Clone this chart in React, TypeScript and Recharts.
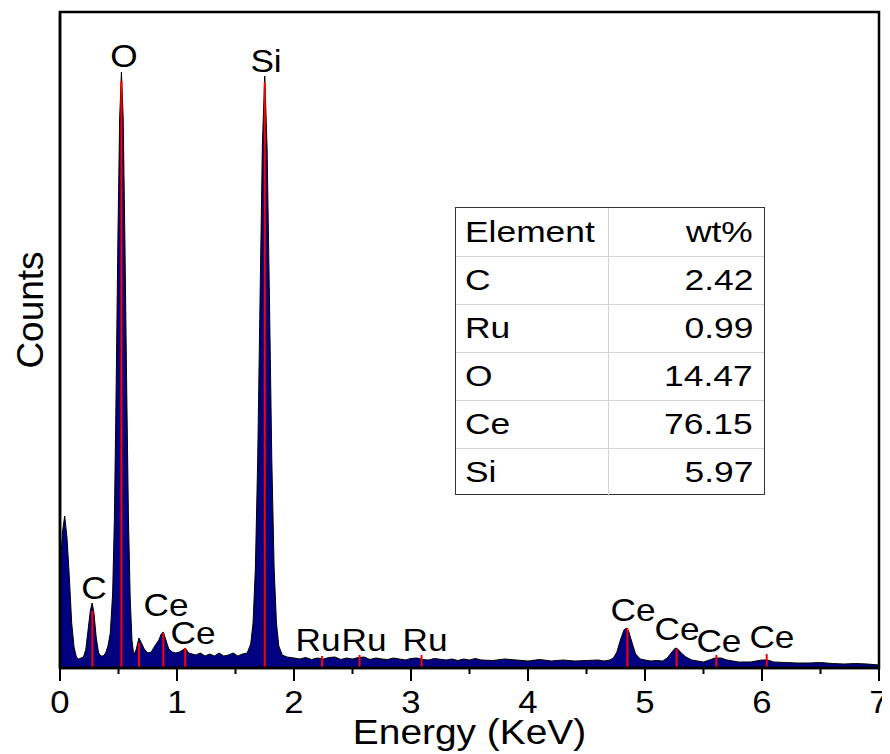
import React from "react";
import { Area, ComposedChart, ReferenceArea, ReferenceLine, Scatter, XAxis, YAxis } from "recharts";

const FONT = "'Liberation Sans', Arial, Helvetica, sans-serif";

// EDS spectrum (energy in keV, counts)
const energy = [
  0, 0.02, 0.04, 0.06, 0.08, 0.1, 0.12, 0.14, 0.16, 0.18,
  0.2, 0.22, 0.24, 0.26, 0.275, 0.29, 0.31, 0.33, 0.35, 0.37,
  0.39, 0.41, 0.43, 0.45, 0.465, 0.48, 0.495, 0.51, 0.525, 0.54,
  0.555, 0.57, 0.585, 0.6, 0.615, 0.63, 0.65, 0.675, 0.7, 0.72,
  0.75, 0.78, 0.81, 0.845, 0.865, 0.883, 0.905, 0.93, 0.96, 0.99,
  1.02, 1.05, 1.07, 1.1, 1.13, 1.16, 1.2, 1.24, 1.28, 1.32,
  1.36, 1.4, 1.44, 1.48, 1.52, 1.56, 1.6, 1.63, 1.65, 1.67,
  1.69, 1.71, 1.73, 1.75, 1.77, 1.79, 1.81, 1.83, 1.85, 1.87,
  1.9, 1.94, 2.0, 2.05, 2.1, 2.15, 2.2, 2.25, 2.3, 2.35,
  2.4, 2.45, 2.5, 2.55, 2.6, 2.65, 2.7, 2.75, 2.8, 2.85,
  2.9, 2.95, 3.0, 3.05, 3.1, 3.15, 3.2, 3.3, 3.35, 3.4,
  3.45, 3.5, 3.55, 3.6, 3.7, 3.8, 3.9, 4.0, 4.1, 4.2,
  4.3, 4.4, 4.5, 4.6, 4.65, 4.7, 4.73, 4.76, 4.79, 4.82,
  4.84, 4.86, 4.89, 4.92, 4.96, 5.0, 5.05, 5.1, 5.15, 5.19,
  5.23, 5.26, 5.28, 5.31, 5.35, 5.4, 5.45, 5.5, 5.55, 5.6,
  5.65, 5.7, 5.75, 5.8, 5.9, 6.0, 6.05, 6.1, 6.2, 6.3,
  6.4, 6.5, 6.6, 6.7, 6.8, 6.9, 7.0,
];
const counts = [
  900, 1350, 1520, 1300, 900, 450, 210, 110, 90, 100,
  110, 180, 380, 580, 650, 550, 300, 150, 120, 120,
  150, 220, 350, 750, 1500, 2800, 4300, 5500, 5960, 5500,
  4250, 2800, 1500, 700, 280, 130, 180, 300, 240, 190,
  150, 160, 220, 280, 340, 360, 280, 190, 160, 150,
  160, 180, 200, 150, 140, 130, 150, 120, 140, 120,
  150, 120, 130, 150, 120, 140, 150, 240, 450, 1000,
  2100, 3700, 5250, 5920, 5200, 3700, 2100, 1000, 450, 220,
  130, 110, 100, 90, 105, 85, 100, 90, 105, 110,
  85, 100, 90, 105, 110, 85, 100, 90, 85, 100,
  90, 80, 95, 100, 85, 80, 95, 80, 90, 75,
  90, 80, 95, 80, 75, 90, 80, 70, 85, 70,
  80, 70, 75, 80, 70, 80, 100, 160, 280, 380,
  400, 370, 250, 140, 90, 80, 70, 75, 70, 100,
  160, 200, 190, 150, 110, 80, 70, 60, 80, 100,
  100, 80, 70, 60, 60, 80, 80, 60, 55, 50,
  50, 55, 45, 40, 45, 40, 30,
];

// red element lines (energy, height in counts)
const lineEnergy = [0.277, 0.525, 0.675, 0.883, 1.07, 1.75, 2.24, 2.56, 3.09, 4.85, 5.27, 5.61, 6.04];
const lineTop = [570, 5870, 250, 350, 200, 5860, 120, 130, 130, 400, 190, 130, 140];

// peak labels
const labelText = ["O", "Si", "C", "Ce", "Ce", "Ru", "Ru", "Ru", "Ce", "Ce", "Ce", "Ce"];
const labelEnergy = [0.547, 1.761, 0.29, 0.906, 1.137, 2.205, 2.598, 3.12, 4.897, 5.274, 5.632, 6.085];
const labelCounts = [6130, 6080, 810, 640, 360, 290, 290, 290, 590, 400, 280, 320];

const tickValues = [0, 0.5, 1, 1.5, 2, 2.5, 3, 3.5, 4, 4.5, 5, 5.5, 6, 6.5, 7];

const elements = ["C", "Ru", "O", "Ce", "Si"];
const wtPercent = ["2.42", "0.99", "14.47", "76.15", "5.97"];

const Y_MAX = 6560;

const spectrum = energy.map((e, i) => ({ e, c: counts[i] }));
const labelRows = labelText.map((text, i) => ({ e: labelEnergy[i], y: labelCounts[i], text }));

const EnergyTick = (props: any) => {
  const { x, y, payload } = props;
  const v = payload.value;
  const major = Number.isInteger(v);
  return (
    <g>
      <line x1={x} x2={x} y1={y} y2={y + (major ? 13 : 6)} stroke="#000" strokeWidth={2} />
      {major && (
        <text
          transform={`translate(${x},${y + 45}) scale(1.12,1)`}
          textAnchor="middle"
          fontSize={31}
          fontFamily={FONT}
          fill="#000"
        >
          {v}
        </text>
      )}
    </g>
  );
};

const PeakLabel = (p: any) => (
  <text
    transform={`translate(${p.cx},${p.cy + 11.5}) scale(1.1,1)`}
    textAnchor="middle"
    fontSize={32}
    fontFamily={FONT}
    fill="#000"
  >
    {p.payload.text}
  </text>
);

const cellText = (s: string, right: boolean) => (
  <span
    style={{
      display: "inline-block",
      transform: "scaleX(1.22)",
      transformOrigin: right ? "right center" : "left center",
    }}
  >
    {s}
  </span>
);

const App = () => {
  const rows = [["Element", "wt%"], ...elements.map((el, i) => [el, wtPercent[i]])];
  return (
    <div style={{ position: "relative", width: 882, height: 746 }}>
      <ComposedChart width={882} height={746} data={spectrum} margin={{ top: 4, right: 11, bottom: 0, left: 0 }}>
        <Area
          type="linear"
          dataKey="c"
          stroke="#000"
          strokeWidth={1}
          fill="#000080"
          fillOpacity={1}
          isAnimationActive={false}
        />
        {lineEnergy.map((e, i) => (
          <ReferenceLine
            key={i}
            segment={[{ x: e, y: 0 }, { x: e, y: lineTop[i] }]}
            stroke="#ff0000"
            strokeWidth={2}
          />
        ))}
        <Scatter data={labelRows} dataKey="y" shape={PeakLabel} isAnimationActive={false} />
        <ReferenceArea x1={0} x2={7} y1={0} y2={Y_MAX} fill="none" stroke="#000" strokeWidth={2.5} />
        <XAxis
          type="number"
          dataKey="e"
          domain={[0, 7]}
          ticks={tickValues}
          interval={0}
          allowDataOverflow
          height={86}
          tickSize={0}
          tickMargin={0}
          tickLine={false}
          tick={<EnergyTick />}
          axisLine={{ stroke: "#000", strokeWidth: 2.5 }}
          label={{
            content: (p: any) => {
              const vb = p.viewBox;
              return (
                <text
                  transform={`translate(${vb.x + vb.width / 2},${vb.y + 76}) scale(1.08,1)`}
                  textAnchor="middle"
                  fontSize={36}
                  fontFamily={FONT}
                  fill="#000"
                >
                  Energy (KeV)
                </text>
              );
            },
          }}
        />
        <YAxis
          type="number"
          domain={[0, Y_MAX]}
          allowDataOverflow
          width={52}
          tick={false}
          tickLine={false}
          axisLine={{ stroke: "#000", strokeWidth: 2.5 }}
          label={{
            content: (p: any) => {
              const vb = p.viewBox;
              return (
                <text
                  transform={`translate(${vb.x + 35},${vb.y + vb.height / 2 - 30}) rotate(-90)`}
                  textAnchor="middle"
                  fontSize={37}
                  fontFamily={FONT}
                  fill="#000"
                >
                  Counts
                </text>
              );
            },
          }}
        />
      </ComposedChart>
      <div
        style={{
          position: "absolute",
          left: 447,
          top: 199,
          width: 310,
          height: 288,
          boxSizing: "border-box",
          border: "1.5px solid #333",
          background: "#fff",
          fontFamily: FONT,
          fontSize: 29,
          color: "#000",
        }}
      >
        {rows.map((r, i) => (
          <div
            key={i}
            style={{
              display: "flex",
              height: 48,
              boxSizing: "border-box",
              borderTop: i === 0 ? "none" : "1px solid #d4d4d4",
              alignItems: "center",
            }}
          >
            <div
              style={{
                width: 153,
                height: "100%",
                boxSizing: "border-box",
                borderRight: "1px solid #d4d4d4",
                paddingLeft: 9,
                display: "flex",
                alignItems: "center",
              }}
            >
              {cellText(r[0], false)}
            </div>
            <div
              style={{
                flex: 1,
                height: "100%",
                boxSizing: "border-box",
                paddingRight: 11,
                display: "flex",
                alignItems: "center",
                justifyContent: "flex-end",
              }}
            >
              {cellText(r[1], true)}
            </div>
          </div>
        ))}
      </div>
    </div>
  );
};

export default App;
